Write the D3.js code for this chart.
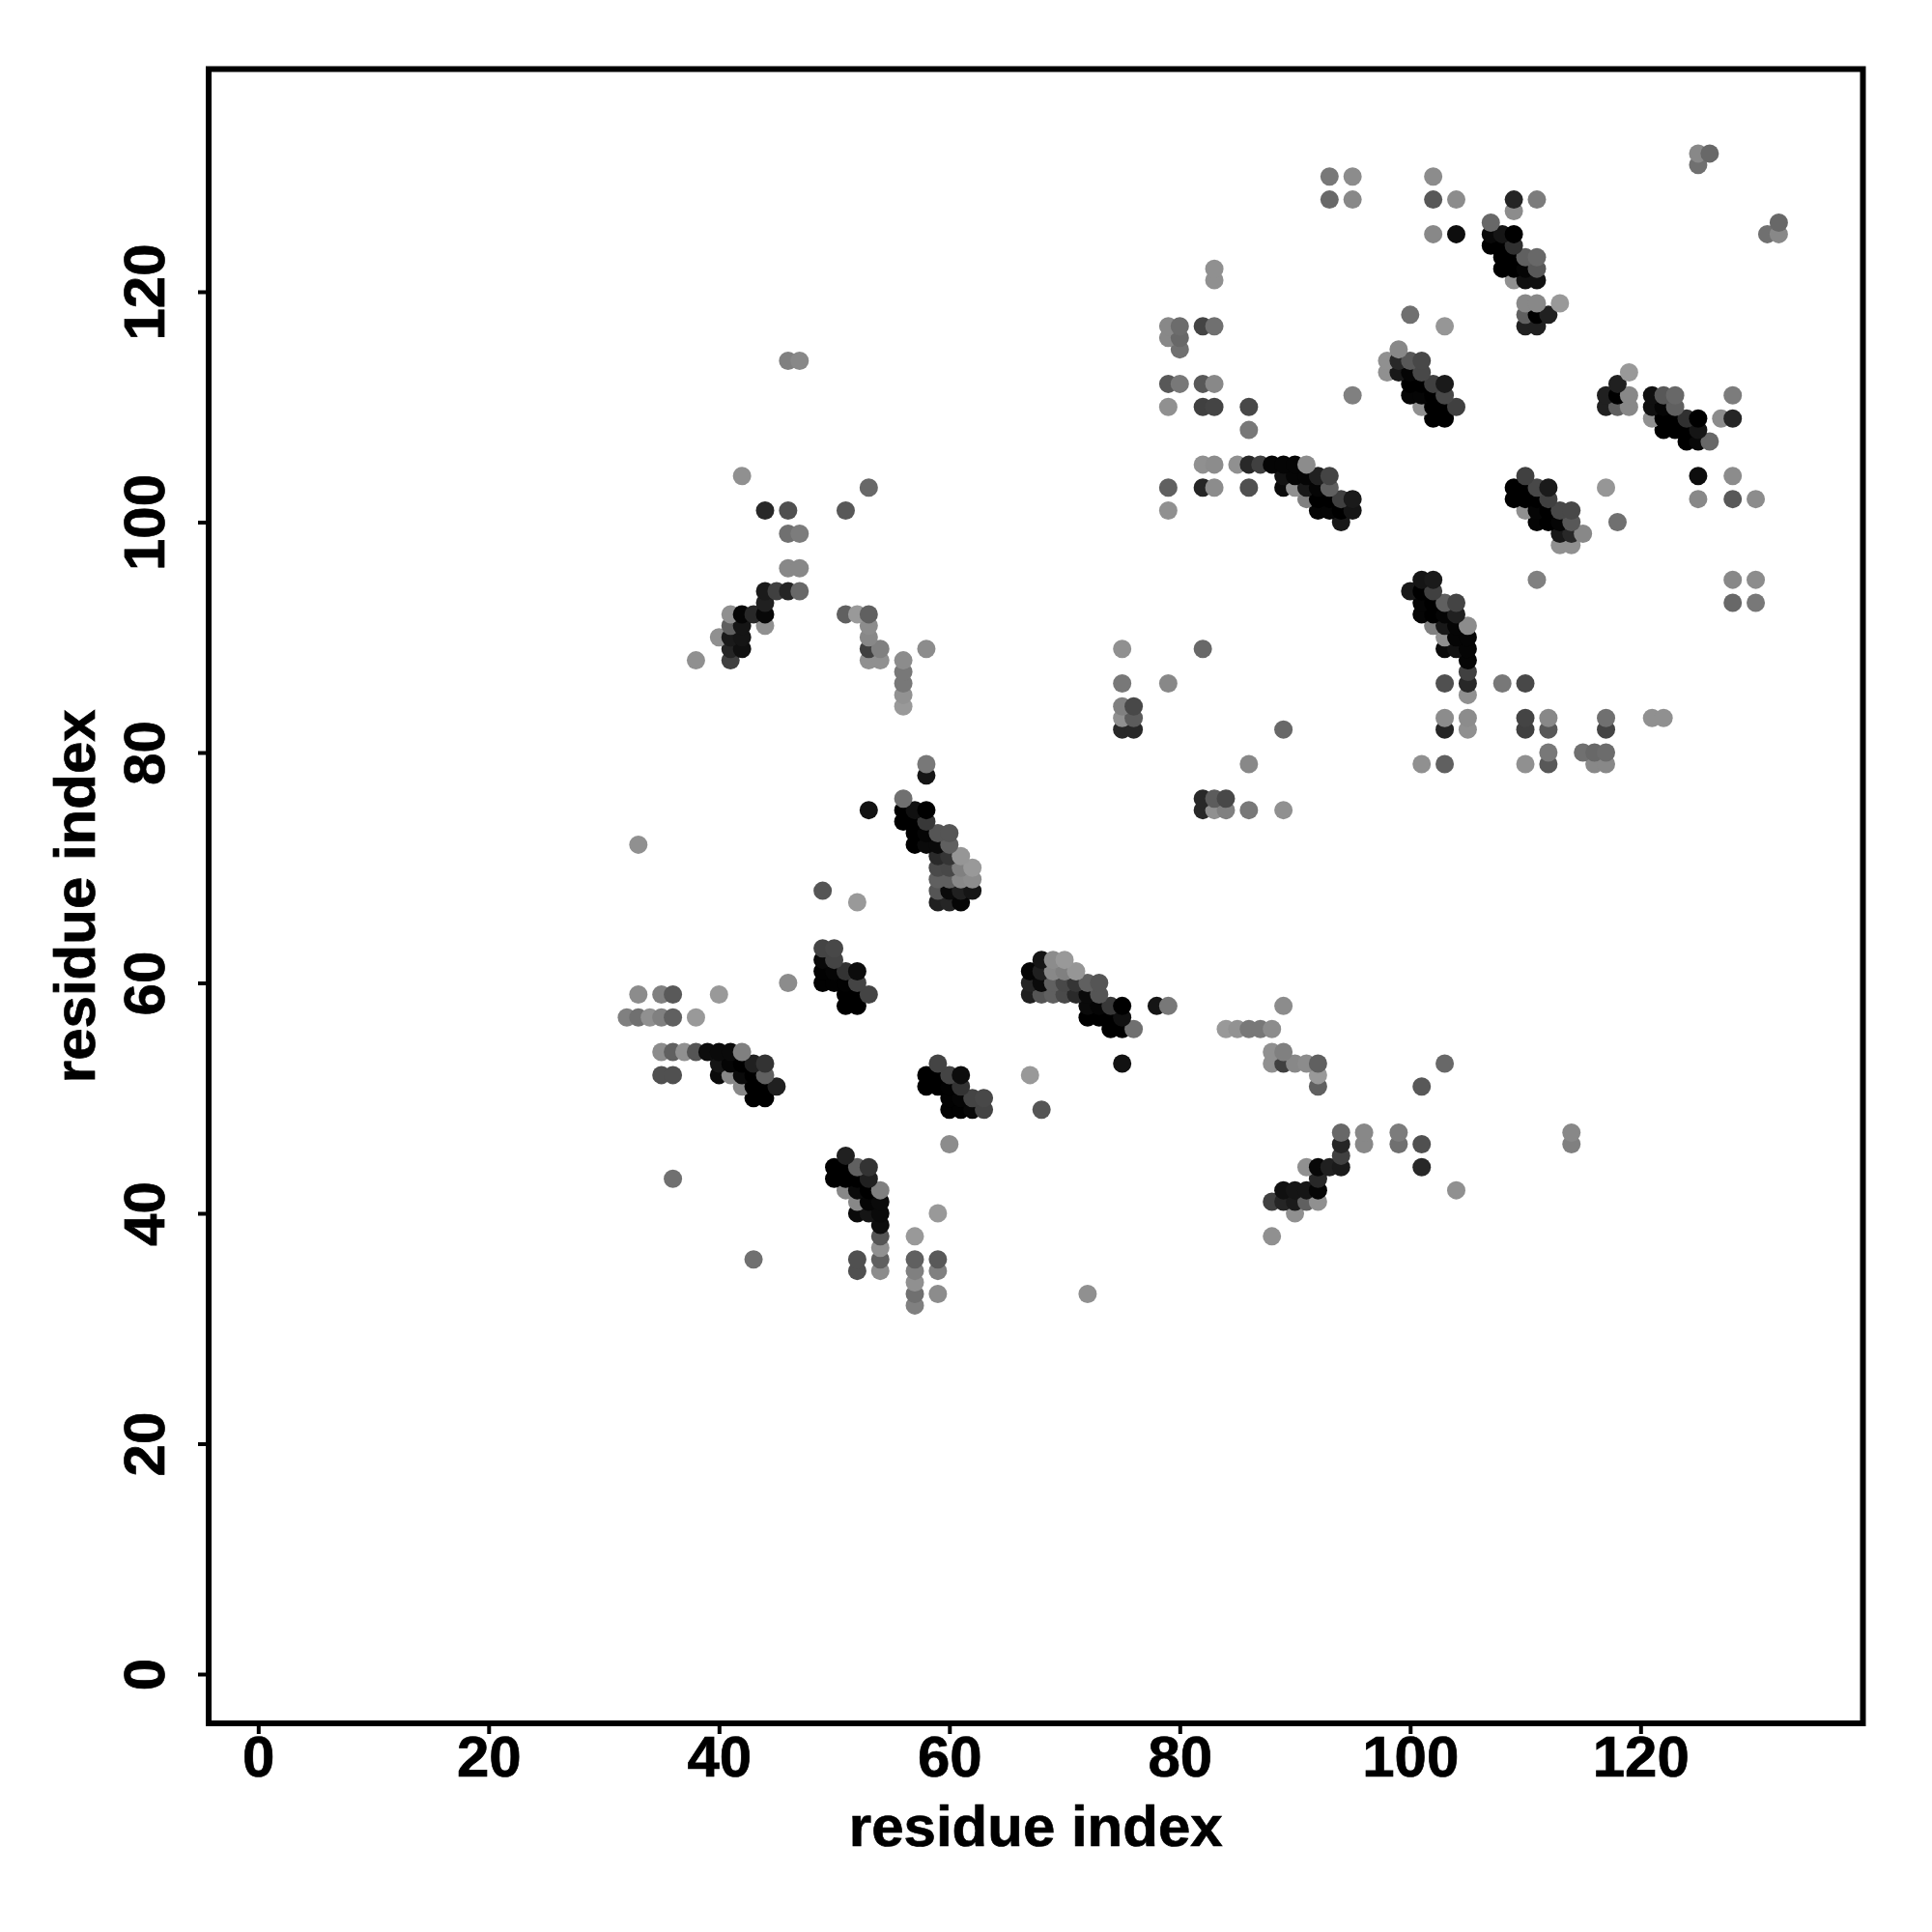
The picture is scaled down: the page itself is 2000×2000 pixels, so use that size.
<!DOCTYPE html>
<html>
<head>
<meta charset="utf-8">
<script src="https://cdn.jsdelivr.net/npm/d3@7"></script>
<style>
html,body{margin:0;padding:0;background:#fff}
svg{display:block}
text{font-family:"Liberation Sans",Arial,sans-serif;font-weight:700;fill:#000;stroke:#000;stroke-width:0.7px}
</style>
</head>
<body>
<svg id="chart" width="2000" height="2000"></svg>
<script>
// Each contact is [residue i, residue j, grey level]; the map is symmetric, so each pair is read once.
const tickLabels = [0, 20, 40, 60, 80, 100, 120];
const axisTitle = "residue index";

const contactsA = [
[33,59,0x8c],[35,59,0x80],[36,59,0x59],[40,59,0x99],
[32,57,0x80],[33,57,0x70],[34,57,0x90],[35,57,0x80],[36,57,0x60],[38,57,0x99],
[35,54,0x8c],[36,54,0x60],[37,54,0x90],[38,54,0x55],[39,54,0x0d],[40,54,0x0a],[41,54,0x0a],[42,54,0x80],
[40,53,0x15],[41,53,0x05],[42,53,0x00],[43,53,0x20],[44,53,0x33],
[35,52,0x50],[36,52,0x50],[40,52,0x0a],[41,52,0x88],[42,52,0x0a],[43,52,0x00],[44,52,0x60],
[42,51,0x88],[43,51,0x00],[44,51,0x00],[45,51,0x20],
[43,50,0x00],[44,50,0x00],[36,43,0x70]];

const contactsB = [
[49,63,0x44],[50,63,0x48],[49,62,0x08],[50,62,0x44],
[49,61,0x02],[50,61,0x05],[51,61,0x33],[52,61,0x0c],
[49,60,0x02],[50,60,0x02],[51,60,0x02],[52,60,0x44],
[51,59,0x00],[52,59,0x00],[53,59,0x44],[51,58,0x00],[52,58,0x00],[46,60,0x8c]];

const contactsC = [
[62,68,0x15],[62,69,0x8c],[62,70,0x99],
[61,67,0x05],[61,68,0x20],[61,69,0x88],[61,70,0x80],[61,71,0x96],
[60,67,0x25],[60,68,0x0a],[60,69,0x60],[60,70,0x48],[60,71,0x35],[60,72,0x60],[60,73,0x55],
[59,67,0x20],[59,68,0x55],[59,69,0x60],[59,70,0x4a],[59,71,0x2a],[59,72,0x0a],[59,73,0x55],
[58,72,0x0a],[58,73,0x05],[58,74,0x38],[58,75,0x00],[58,78,0x15],[58,79,0x78],
[57,72,0x00],[57,73,0x00],[57,74,0x00],[57,75,0x10],
[56,74,0x00],[56,75,0x00],[56,76,0x70],
[53,75,0x12],[52,67,0x99],[49,68,0x55],[33,72,0x90]];

const contactsD = [
[51,101,0x58],[53,103,0x68],[42,104,0x90],[44,101,0x28],[46,101,0x50],
[46,99,0x70],[47,99,0x7c],[46,96,0x88],[47,96,0x88],[46,114,0x80],[47,114,0x88],
[44,94,0x1a],[45,94,0x40],[46,94,0x25],[47,94,0x68],[44,93,0x20],
[41,92,0x90],[42,92,0x05],[43,92,0x28],[44,92,0x08],[51,92,0x58],[52,92,0x90],[53,92,0x60],
[41,91,0x60],[42,91,0x15],[44,91,0x90],[53,91,0x8c],
[40,90,0x90],[41,90,0x1a],[42,90,0x15],[53,90,0x88],
[41,89,0x25],[42,89,0x10],[53,89,0x40],[54,89,0x78],[58,89,0x8c],
[38,88,0x90],[41,88,0x40],[53,88,0x8c],[54,88,0x8c],[56,88,0x8c],
[56,87,0x70],[56,86,0x78],[56,85,0x90],[56,84,0x90]];

const contactsE = [
[84,56,0x99],[85,56,0x92],[86,56,0x78],[87,56,0x78],[88,56,0x8c],[89,58,0x8c],
[88,54,0x90],[89,54,0x80],[88,53,0x90],[89,53,0x40],[90,53,0x88],[91,53,0x8c],[92,53,0x60],
[92,52,0x99],[92,51,0x60]];

const contactsF = [
[75,86,0x78],[79,86,0x88],[75,89,0x90],[75,84,0x80],[76,84,0x48],[75,83,0x90],[76,83,0x5c],
[75,82,0x28],[76,82,0x28],[82,89,0x68]];

const contactsG = [
[82,105,0x90],[83,105,0x8c],[85,105,0x90],[86,105,0x28],[87,105,0x40],[88,105,0x05],[89,105,0x05],[90,105,0x05],[91,105,0x8c],
[89,104,0x12],[90,104,0x05],[91,104,0x05],[92,104,0x20],[93,104,0x44],
[79,103,0x60],[82,103,0x25],[83,103,0x8c],[86,103,0x50],[89,103,0x0a],[90,103,0x90],[91,103,0x18],[92,103,0x05],[93,103,0x60],
[91,102,0x80],[92,102,0x00],[93,102,0x00],[94,102,0x40],[95,102,0x1a],
[79,101,0x90],[92,101,0x05],[93,101,0x05],[94,101,0x00],[95,101,0x15],[94,100,0x18]];

const contactsH = [
[83,122,0x88],[83,121,0x90],[79,117,0x88],[80,117,0x6c],[82,117,0x44],[83,117,0x70],[79,116,0x88],[80,116,0x68],[80,115,0x70],
[79,112,0x58],[80,112,0x78],[82,112,0x58],[83,112,0x88],[79,110,0x90],[82,110,0x40],[83,110,0x44],[86,110,0x48],[86,108,0x78]];

const contactsI = [
[99,115,0x88],[98,114,0x90],[99,114,0x28],[100,114,0x58],[101,114,0x48],
[98,113,0x90],[99,113,0x18],[100,113,0x05],[101,113,0x48],
[100,112,0x00],[101,112,0x00],[102,112,0x40],[103,112,0x1a],
[95,111,0x80],[100,111,0x05],[101,111,0x05],[102,111,0x00],[103,111,0x48],
[101,110,0x90],[102,110,0x00],[103,110,0x00],[104,110,0x40],[102,109,0x00],[103,109,0x00]];

const contactsJ = [
[125,132,0x88],[126,132,0x68],[125,131,0x70],[93,130,0x78],[95,130,0x8c],[102,130,0x90],
[93,128,0x68],[95,128,0x88],[102,128,0x5c],[104,128,0x8c],[109,128,0x25],[111,128,0x78],[109,127,0x90],[107,126,0x6c],
[102,125,0x88],[104,125,0x10],[107,125,0x10],[108,125,0x18],[109,125,0x00],
[107,124,0x08],[108,124,0x05],[109,124,0x38],
[108,123,0x00],[109,123,0x00],[110,123,0x60],[111,123,0x60],
[108,122,0x05],[109,122,0x00],[110,122,0x00],[111,122,0x50],
[109,121,0x90],[110,121,0x15],[111,121,0x0d],
[110,119,0x88],[111,119,0x88],[113,119,0x99],[100,118,0x70],[110,118,0x60],[111,118,0x00],[112,118,0x20],
[103,117,0x96],[110,117,0x20],[111,117,0x20]];

const contactsK = [
[121,111,0x10],[122,111,0x58],[123,111,0x68],[128,111,0x7c],
[121,110,0x10],[122,110,0x05],[123,110,0x60],
[121,109,0x90],[122,109,0x00],[123,109,0x00],[124,109,0x30],[125,109,0x00],[127,109,0x8c],[128,109,0x25],
[122,108,0x00],[123,108,0x00],[124,108,0x00],[125,108,0x15],
[124,107,0x00],[125,107,0x08],[126,107,0x68],
[125,104,0x0d],[128,104,0x8c],[125,102,0x88],[128,102,0x58],[130,102,0x8c]];

const contactsL = [
[108,86,0x78],[110,86,0x48],[117,83,0x70],[121,83,0x90],[122,83,0x90],[110,83,0x44],[112,83,0x88]];

const allContacts = [contactsA, contactsB, contactsC, contactsD, contactsE, contactsF,
  contactsG, contactsH, contactsI, contactsJ, contactsK, contactsL].flat();

// Mirror across the diagonal, then draw low rows first so that later points overlap earlier ones.
const seen = new Map();
allContacts.forEach(([i, j, g]) => { seen.set(i + "," + j, [i, j, g]); seen.set(j + "," + i, [j, i, g]); });
const points = Array.from(seen.values()).sort((a, b) => d3.ascending(a[1], b[1]) || d3.ascending(a[0], b[0]));

const svg = d3.select("#chart");
const frame = {left: 216, right: 1928.5, top: 71.5, bottom: 1784};
const x = d3.scaleLinear().domain([0, 120]).range([267.3, 1698.3]);
const y = d3.scaleLinear().domain([0, 120]).range([1733, 302]);
const grey = g => d3.rgb(g, g, g).formatHex();

svg.append("rect").attr("width", 2000).attr("height", 2000).attr("fill", "#fff");

svg.append("g").selectAll("circle").data(points).join("circle")
  .attr("cx", d => x(d[0])).attr("cy", d => y(d[1])).attr("r", 9.5)
  .attr("fill", d => grey(d[2]));

svg.append("rect")
  .attr("x", frame.left).attr("y", frame.top)
  .attr("width", frame.right - frame.left).attr("height", frame.bottom - frame.top)
  .attr("fill", "none").attr("stroke", "#000").attr("stroke-width", 6);

const xAxis = svg.append("g").attr("transform", `translate(0,${frame.bottom})`)
  .call(d3.axisBottom(x).tickValues(tickLabels).tickSize(11).tickPadding(0));
xAxis.select(".domain").remove();
xAxis.selectAll("line").attr("stroke", "#000").attr("stroke-width", 4);
xAxis.selectAll("text").attr("font-size", 60).attr("y", 0).attr("dy", 0)
  .attr("transform", "translate(0,55)").attr("text-anchor", "middle");

const yAxis = svg.append("g").attr("transform", `translate(${frame.left},0)`)
  .call(d3.axisLeft(y).tickValues(tickLabels).tickSize(11).tickPadding(0));
yAxis.select(".domain").remove();
yAxis.selectAll("line").attr("stroke", "#000").attr("stroke-width", 4);
yAxis.selectAll("text").attr("font-size", 60).attr("x", 0).attr("y", 0).attr("dy", 0)
  .attr("text-anchor", "middle")
  .attr("transform", "translate(-46,0) rotate(-90)");

svg.append("text").attr("x", (frame.left + frame.right) / 2).attr("y", 1911)
  .attr("text-anchor", "middle").attr("font-size", 60).text(axisTitle);
svg.append("text").attr("text-anchor", "middle").attr("font-size", 60)
  .attr("transform", `translate(98,${(frame.top + frame.bottom) / 2}) rotate(-90)`).text(axisTitle);
</script>
</body>
</html>
